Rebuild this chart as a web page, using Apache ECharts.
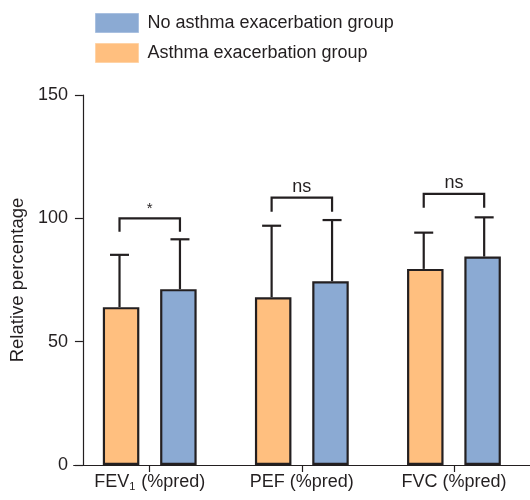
<!DOCTYPE html>
<html>
<head>
<meta charset="utf-8">
<script src="https://cdn.jsdelivr.net/npm/echarts@6/dist/echarts.min.js"></script>
<style>html,body{margin:0;padding:0;background:#fff}#chart{width:530px;height:500px}</style>
</head>
<body>
<div id="chart"></div>
<script>
// ---- data ----
var categories = ['FEV1 (%pred)', 'PEF (%pred)', 'FVC (%pred)'];
var seriesNames = ['Asthma exacerbation group', 'No asthma exacerbation group'];
var exacMean = [64, 68, 79.5];
var exacUpper = [85.2, 97, 94.2];
var noExacMean = [71.3, 74.5, 84.5];
var noExacUpper = [91.5, 99.3, 100.4];
var sigTop = [100, 108.4, 109.9];
var sigLeg = [94.6, 102.7, 104.3];
var sigLabels = ['*', 'ns', 'ns'];
var yTicks = [0, 50, 100, 150];

// ---- styles ----
var ORANGE = '#FFBF7F', BLUE = '#8BAAD3', INK = '#231F20';
var FONT = 'Liberation Sans, Arial, Helvetica, sans-serif';
var BAR_W = 36.5, GAP_RATIO = 0.57;
var HALF_OFF = (BAR_W + 2 + (BAR_W + 2) * GAP_RATIO) / 2;

var chart = echarts.init(document.getElementById('chart'), null, {renderer: 'canvas'});

function errorRender(sign) {
  return function (params, api) {
    var cat = api.value(0);
    var base = api.coord([cat, api.value(1)]);
    var top = api.coord([cat, api.value(2)]);
    var x = base[0] + sign * HALF_OFF;
    var st = {stroke: INK, lineWidth: 2.2};
    return {
      type: 'group',
      children: [
        {type: 'line', shape: {x1: x, y1: base[1], x2: x, y2: top[1]}, style: st},
        {type: 'line', shape: {x1: x - 9.5, y1: top[1], x2: x + 9.5, y2: top[1]}, style: st}
      ]
    };
  };
}

function sigRender(params, api) {
  var cat = api.value(0);
  var t = api.coord([cat, api.value(1)]);
  var l = api.coord([cat, api.value(2)]);
  var x1 = t[0] - HALF_OFF, x2 = t[0] + HALF_OFF;
  var label = sigLabels[params.dataIndex];
  return {
    type: 'group',
    children: [
      {type: 'polyline', shape: {points: [[x1, l[1]], [x1, t[1]], [x2, t[1]], [x2, l[1]]]},
        style: {stroke: INK, lineWidth: 2.2, fill: null}},
      {type: 'text', x: t[0], y: t[1] - 2,
        style: {text: label, fill: INK, font: (label === '*' ? '15px ' : '18px ') + FONT,
          textAlign: 'center', textVerticalAlign: 'bottom'}}
    ]
  };
}

var option = {
  animation: false,
  textStyle: {fontFamily: FONT, color: INK},
  legend: {
    orient: 'vertical', left: 95, top: 13, padding: 0,
    icon: 'rect',
    itemWidth: 43, itemHeight: 19, itemGap: 10,
    textStyle: {fontSize: 18, color: INK, fontFamily: FONT, padding: [0, 0, 0, 4]},
    data: [
      {name: seriesNames[1], itemStyle: {color: BLUE, borderColor: '#a9c0e0', borderWidth: 1}},
      {name: seriesNames[0], itemStyle: {color: ORANGE, borderColor: '#ffd3a6', borderWidth: 1}}
    ]
  },
  grid: {left: 72.75, right: -6.25, top: 95, bottom: 35, containLabel: false},
  xAxis: {
    type: 'category', data: categories,
    axisLine: {show: true, lineStyle: {color: INK, width: 1.2}},
    axisTick: {show: true, alignWithLabel: true, interval: 0, length: 7, lineStyle: {color: INK, width: 1.2}},
    axisLabel: {
      interval: 0, hideOverlap: false,
      margin: 8, fontSize: 18, color: INK, fontFamily: FONT,
      formatter: function (v) { return v.replace('FEV1', 'FEV{sub|1}'); },
      rich: {sub: {fontSize: 11, verticalAlign: 'bottom', fontFamily: FONT, color: INK, padding: [8, 1, 0, 0]}}
    }
  },
  yAxis: {
    type: 'value', min: yTicks[0], max: yTicks[yTicks.length - 1], interval: yTicks[1] - yTicks[0],
    offset: -9.25,
    name: 'Relative percentage', nameLocation: 'middle', nameGap: 55,
    nameTextStyle: {fontSize: 18.5, color: INK, fontFamily: FONT},
    axisLine: {show: true, lineStyle: {color: INK, width: 1.2}},
    axisTick: {show: true, length: 8, lineStyle: {color: INK, width: 1.2}},
    axisLabel: {margin: 15, fontSize: 18, color: INK, fontFamily: FONT},
    splitLine: {show: false}
  },
  series: [
    {name: seriesNames[0], type: 'bar', data: exacMean, barWidth: BAR_W, barGap: (GAP_RATIO * 100) + '%',
      itemStyle: {color: ORANGE, borderColor: INK, borderWidth: 2.2}},
    {name: seriesNames[1], type: 'bar', data: noExacMean, barWidth: BAR_W,
      itemStyle: {color: BLUE, borderColor: INK, borderWidth: 2.2}},
    {type: 'custom', renderItem: errorRender(-1), z: 1,
      data: categories.map(function (c, i) { return [i, exacMean[i], exacUpper[i]]; })},
    {type: 'custom', renderItem: errorRender(1), z: 1,
      data: categories.map(function (c, i) { return [i, noExacMean[i], noExacUpper[i]]; })},
    {type: 'custom', renderItem: sigRender, z: 3,
      data: categories.map(function (c, i) { return [i, sigTop[i], sigLeg[i]]; })}
  ]
};
chart.setOption(option);
</script>
</body>
</html>
